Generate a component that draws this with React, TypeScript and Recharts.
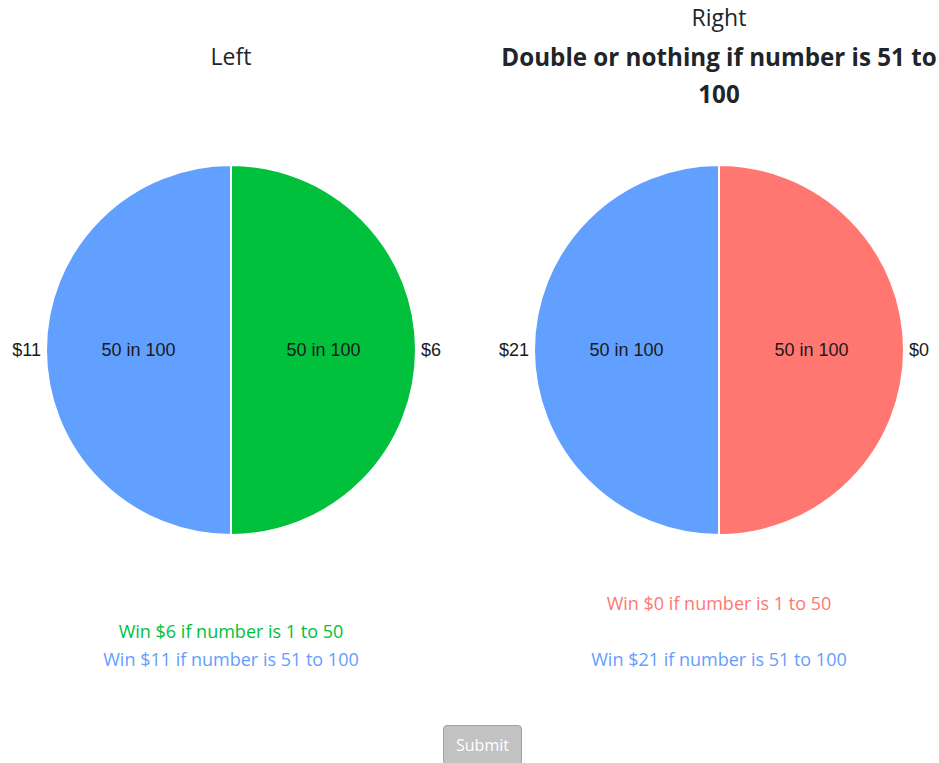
import React from 'react';
import { PieChart, Pie, Cell } from 'recharts';

const ranges = ['1 to 50', '51 to 100'];
const chances = [50, 50];
const leftPayouts = ['$6', '$11'];
const rightPayouts = ['$0', '$21'];
const leftColors = ['#00c03c', '#62a0ff'];
const rightColors = ['#ff7770', '#62a0ff'];
const chanceLabels = ['50 in 100', '50 in 100'];

const UI_FONT = '"Open Sans", "Noto Sans", sans-serif';
const LABEL_FONT = '"Liberation Sans", Arial, sans-serif';
const RAD = Math.PI / 180;

function buildData(payouts: string[], colors: string[]) {
  return ranges.map((r, i) => ({
    name: r,
    value: chances[i],
    payout: payouts[i],
    color: colors[i],
    chance: chanceLabels[i],
  }));
}

const renderLabel = (props: any) => {
  const { cx, cy, midAngle, outerRadius, payload, index } = props;
  const cos = Math.cos(-midAngle * RAD);
  const sin = Math.sin(-midAngle * RAD);
  const ix = cx + outerRadius * 0.5 * cos;
  const iy = cy + outerRadius * 0.5 * sin;
  const ox = cx + (outerRadius + 5) * cos;
  const oy = cy + (outerRadius + 5) * sin;
  const p = payload?.payload ?? payload;
  return (
    <g key={`lbl-${index}`}>
      <text x={ix} y={iy} fill="#1a1a1a" textAnchor="middle" dominantBaseline="central" fontSize={18} fontFamily={LABEL_FONT}>
        {p.chance}
      </text>
      <text x={ox} y={oy} fill="#1a1a1a" textAnchor={cos >= 0 ? 'start' : 'end'} dominantBaseline="central" fontSize={18} fontFamily={LABEL_FONT}>
        {p.payout}
      </text>
    </g>
  );
};

function Wheel({ data }: { data: any[] }) {
  return (
    <PieChart width={460} height={400} margin={{ top: 0, right: 0, bottom: 0, left: 0 }}>
      <Pie
        data={data}
        dataKey="value"
        nameKey="name"
        cx={230}
        cy={200}
        outerRadius={185}
        startAngle={90}
        endAngle={-270}
        stroke="#ffffff"
        strokeWidth={2}
        labelLine={false}
        label={renderLabel}
        isAnimationActive={false}
      >
        {data.map((d, i) => (
          <Cell key={i} fill={d.color} />
        ))}
      </Pie>
    </PieChart>
  );
}

const abs = (left: number, top: number, width: number, extra: React.CSSProperties = {}): React.CSSProperties => ({
  position: 'absolute',
  left,
  top,
  width,
  textAlign: 'center',
  whiteSpace: 'nowrap',
  fontFamily: UI_FONT,
  ...extra,
});

export default function App() {
  const leftData = buildData(leftPayouts, leftColors);
  const rightData = buildData(rightPayouts, rightColors);
  return (
    <div style={{ position: 'absolute', left: 0, top: 0, width: 939, height: 763, background: '#fff', overflow: 'hidden' }}>
      <div style={abs(1, 41, 460, { fontSize: 23, lineHeight: '30px', color: '#212529' })}>Left</div>
      <div style={abs(489, 2, 460, { fontSize: 23, lineHeight: '30px', color: '#212529' })}>Right</div>
      <div style={abs(489, 38, 460, { fontSize: 24.2, lineHeight: '37px', fontWeight: 700, color: '#212529' })}>
        Double or nothing if number is 51 to
        <br />
        100
      </div>

      <div style={{ position: 'absolute', left: 1, top: 150 }}>
        <Wheel data={leftData} />
      </div>
      <div style={{ position: 'absolute', left: 489, top: 150 }}>
        <Wheel data={rightData} />
      </div>

      <div style={abs(1, 618, 460, { fontSize: 18, lineHeight: '27px', color: leftColors[0] })}>
        Win {leftPayouts[0]} if number is {ranges[0]}
      </div>
      <div style={abs(1, 646, 460, { fontSize: 18, lineHeight: '27px', color: leftColors[1] })}>
        Win {leftPayouts[1]} if number is {ranges[1]}
      </div>
      <div style={abs(489, 590, 460, { fontSize: 18, lineHeight: '27px', color: rightColors[0] })}>
        Win {rightPayouts[0]} if number is {ranges[0]}
      </div>
      <div style={abs(489, 646, 460, { fontSize: 18, lineHeight: '27px', color: rightColors[1] })}>
        Win {rightPayouts[1]} if number is {ranges[1]}
      </div>

      <div
        style={{
          position: 'absolute',
          left: 443,
          top: 725,
          width: 79,
          height: 40,
          boxSizing: 'border-box',
          background: '#c2c2c2',
          border: '1px solid #7aa7e6',
          borderRadius: 4,
          color: '#ffffff',
          fontFamily: UI_FONT,
          fontSize: 16,
          lineHeight: '38px',
          textAlign: 'center',
        }}
      >
        Submit
      </div>
    </div>
  );
}
